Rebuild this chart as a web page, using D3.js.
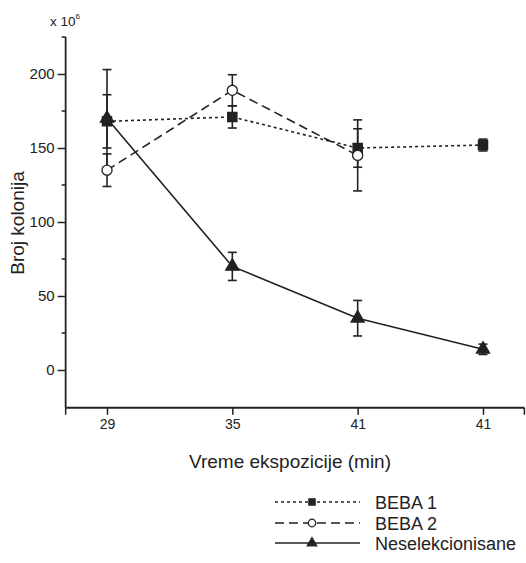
<!DOCTYPE html>
<html>
<head>
<meta charset="utf-8">
<script src="https://d3js.org/d3.v7.min.js"></script>
<style>
  body { margin: 0; background: #fff; }
  svg text { font-family: "Liberation Sans", Arial, sans-serif; fill: #222; }
</style>
</head>
<body>
<div id="chart"></div>
<script>
// categories on the x axis (the last label repeats in the original)
const timeLabels = ["29", "35", "41", "41"];

// series values (x 10^6) with +/- error
const beba1 = [168, 171, 150, 152];
const beba1Err = [18, 7.5, 13, 4];
const beba2 = [135, 189, 145];
const beba2Err = [11, 10.5, 24];
const nesel = [170, 70, 35, 14];
const neselErr = [33, 9.5, 12, 3.5];

const yMajor = [0, 50, 100, 150, 200];
const yMinor = [25, 75, 125, 175, 225];

const width = 526, height = 563;
const ink = "#222";
const font = "'Liberation Sans', Arial, sans-serif";

const svg = d3.select("#chart").append("svg")
  .attr("width", width).attr("height", height);

const x = d3.scaleLinear().domain([0, 3]).range([107, 483]);
const y = d3.scaleLinear().domain([0, 200]).range([370, 74]);

const x0 = x(-0.33), x1 = x(3.33);
const yTop = y(225), yBot = y(-25.5);

// y axis
const yAx = svg.append("g").attr("transform", `translate(${x0},0)`)
  .call(d3.axisLeft(y).tickValues(yMajor).tickSize(8).tickPadding(3));
yAx.select(".domain").remove();
yAx.selectAll("line").attr("stroke", ink).attr("stroke-width", 1.5);
yAx.selectAll("text").style("font-size", "15px").style("font-family", font).attr("fill", ink);
svg.append("g").selectAll("line").data(yMinor).join("line")
  .attr("x1", x0 - 4).attr("x2", x0).attr("y1", d => y(d)).attr("y2", d => y(d))
  .attr("stroke", ink).attr("stroke-width", 1.5);
svg.append("line").attr("x1", x0).attr("x2", x0).attr("y1", yTop).attr("y2", yBot)
  .attr("stroke", ink).attr("stroke-width", 1.8);

// x axis
const xAx = svg.append("g").attr("transform", `translate(0,${yBot})`)
  .call(d3.axisBottom(x).tickValues([0, 1, 2, 3]).tickFormat(i => timeLabels[i])
    .tickSize(7).tickPadding(4));
xAx.select(".domain").remove();
xAx.selectAll("line").attr("stroke", ink).attr("stroke-width", 1.5);
xAx.selectAll("text").style("font-size", "14px").style("font-family", font).attr("fill", ink);
svg.append("line").attr("x1", x0).attr("x2", x1).attr("y1", yBot).attr("y2", yBot)
  .attr("stroke", ink).attr("stroke-width", 1.8);
[x0, x1].forEach(px => svg.append("line").attr("x1", px).attr("x2", px)
  .attr("y1", yBot).attr("y2", yBot + 7).attr("stroke", ink).attr("stroke-width", 1.5));

// axis titles
svg.append("text").attr("x", 50).attr("y", 26).style("font-size", "13.5px")
  .text("x 10").append("tspan").attr("dy", -7).style("font-size", "8px").text("6");
svg.append("text").attr("transform", "translate(24,223) rotate(-90)")
  .attr("text-anchor", "middle").style("font-size", "19px").text("Broj kolonija");
svg.append("text").attr("x", 290).attr("y", 468).attr("text-anchor", "middle")
  .style("font-size", "19px").text("Vreme ekspozicije (min)");

// marker shapes
const sq = d3.symbol().type(d3.symbolSquare);
const ci = d3.symbol().type(d3.symbolCircle);
const tri = d3.symbol().type(d3.symbolTriangle);

const series = [
  { vals: beba1, err: beba1Err, dash: "3,3", sym: sq, size: 85, fill: ink, lsize: 40 },
  { vals: beba2, err: beba2Err, dash: "9,5", sym: ci, size: 80, fill: "#fff", lsize: 45 },
  { vals: nesel, err: neselErr, dash: null, sym: tri, size: 75, fill: ink, lsize: 40 }
];
const names = ["BEBA 1", "BEBA 2", "Neselekcionisane"];

const line = d3.line().x((d, i) => x(i)).y(d => y(d));

// error bars
series.forEach(s => {
  const g = svg.append("g").attr("stroke", ink).attr("stroke-width", 1.6);
  s.vals.forEach((v, i) => {
    const lo = y(v - s.err[i]), hi = y(v + s.err[i]);
    g.append("line").attr("x1", x(i)).attr("x2", x(i)).attr("y1", lo).attr("y2", hi);
    [lo, hi].forEach(py => g.append("line").attr("x1", x(i) - 4.5).attr("x2", x(i) + 4.5)
      .attr("y1", py).attr("y2", py));
  });
});

// lines
series.forEach(s => {
  svg.append("path").datum(s.vals).attr("d", line)
    .attr("fill", "none").attr("stroke", ink).attr("stroke-width", 1.6)
    .attr("stroke-dasharray", s.dash);
});

// markers
series.forEach(s => {
  svg.append("g").selectAll("path").data(s.vals).join("path")
    .attr("transform", (d, i) => `translate(${x(i)},${y(d)})`)
    .attr("d", s.sym.size(s.size)())
    .attr("fill", s.fill).attr("stroke", ink).attr("stroke-width", 1.3);
});

// legend
const legY = [502, 523, 543];
series.forEach((s, k) => {
  const g = svg.append("g").attr("transform", `translate(0,${legY[k]})`);
  g.append("line").attr("x1", 275).attr("x2", 360).attr("y1", 0).attr("y2", 0)
    .attr("stroke", ink).attr("stroke-width", 1.3).attr("stroke-dasharray", s.dash);
  g.append("path").attr("transform", "translate(312,0)")
    .attr("d", s.sym.size(s.lsize)())
    .attr("fill", s.fill).attr("stroke", ink).attr("stroke-width", 1.2);
  g.append("text").attr("x", 375).attr("y", 6.5).style("font-size", "18px").text(names[k]);
});
</script>
</body>
</html>
